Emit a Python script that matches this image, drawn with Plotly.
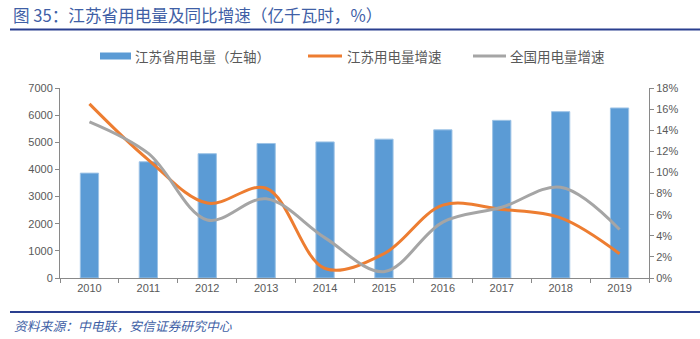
import plotly.graph_objects as go

years = ["2010", "2011", "2012", "2013", "2014", "2015", "2016", "2017", "2018", "2019"]
js_consumption = [3864, 4282, 4580, 4956, 5013, 5115, 5459, 5808, 6128, 6264]
js_growth = [16.5, 11.2, 7.1, 8.5, 0.9, 2.3, 6.9, 6.5, 5.7, 2.3]
cn_growth = [14.8, 11.8, 5.5, 7.5, 3.8, 0.6, 5.3, 6.7, 8.6, 4.6]

title_text = "图 35：江苏省用电量及同比增速（亿千瓦时，%）"
legend_names = ["江苏省用电量（左轴）", "江苏用电量增速", "全国用电量增速"]
source_text = "资料来源：中电联，安信证券研究中心"

W, H = 700, 339
L, R, T, B = 60, 51, 88, 61
pw, ph = W - L - R, H - T - B


def px(x):
    return (x - L) / pw


def py(y):
    return (H - B - y) / ph


BAR = "#5B9BD5"
ORANGE = "#ED7D31"
GRAY = "#A5A5A5"
TXT = "#595959"
BLUE_T = "#3F5FA6"
FONT = "Noto Sans CJK SC"
NUMFONT = "Liberation Sans"

fig = go.Figure()
fig.add_trace(go.Bar(x=years, y=js_consumption, name=legend_names[0], width=0.31,
                     marker=dict(color=BAR, line=dict(color="#9DC3E6", width=1)),
                     showlegend=False))
fig.add_trace(go.Scatter(x=years, y=js_growth, name=legend_names[1], yaxis="y2",
                         mode="lines", line=dict(color=ORANGE, width=3, shape="spline", smoothing=1),
                         showlegend=False))
fig.add_trace(go.Scatter(x=years, y=cn_growth, name=legend_names[2], yaxis="y2",
                         mode="lines", line=dict(color=GRAY, width=3, shape="spline", smoothing=1),
                         showlegend=False))

axis_common = dict(showline=True, linecolor="#898989", linewidth=1, ticks="outside",
                   tickcolor="#898989", ticklen=4, showgrid=False, zeroline=False,
                   tickfont=dict(family=NUMFONT, size=11, color=TXT))

fig.update_layout(
    width=W, height=H,
    margin=dict(l=L, r=R, t=T, b=B),
    paper_bgcolor="white", plot_bgcolor="white",
    showlegend=False,
    bargap=0.69,
    xaxis=dict(type="category", tickson="boundaries", range=[-0.5, 9.5], **axis_common),
    yaxis=dict(range=[0, 7000], dtick=1000, tickformat="d", **axis_common),
    yaxis2=dict(range=[0, 18], dtick=2, ticksuffix="%", overlaying="y", side="right",
                **axis_common),
)

shapes = [
    dict(type="line", xref="paper", yref="paper", x0=px(10), x1=px(700), y0=py(29.5), y1=py(29.5),
         line=dict(color="#2A3F8F", width=2)),
    dict(type="line", xref="paper", yref="paper", x0=px(10), x1=px(700), y0=py(312), y1=py(312),
         line=dict(color="#2A3F8F", width=2)),
    dict(type="rect", xref="paper", yref="paper", x0=px(100), x1=px(131), y0=py(59.5), y1=py(52.5),
         fillcolor=BAR, line=dict(width=0)),
    dict(type="line", xref="paper", yref="paper", x0=px(308), x1=px(342), y0=py(56), y1=py(56),
         line=dict(color=ORANGE, width=3)),
    dict(type="line", xref="paper", yref="paper", x0=px(473), x1=px(506), y0=py(56), y1=py(56),
         line=dict(color=GRAY, width=3)),
]
fig.update_layout(shapes=shapes)

annotations = [
    dict(text=title_text, xref="paper", yref="paper", x=px(11), y=py(15), xanchor="left",
         yanchor="middle", showarrow=False, font=dict(family=FONT, size=16.6, color=BLUE_T)),
    dict(text="<i>" + source_text + "</i>", xref="paper", yref="paper", x=px(12), y=py(325),
         xanchor="left", yanchor="middle", showarrow=False,
         font=dict(family=FONT, size=12.8, color=BLUE_T)),
]
for xpos, name in zip([133, 345, 508], legend_names):
    annotations.append(dict(text=name, xref="paper", yref="paper", x=px(xpos), y=py(56),
                            xanchor="left", yanchor="middle", showarrow=False,
                            font=dict(family=FONT, size=13.5, color=TXT)))
fig.update_layout(annotations=annotations)

fig.write_html("out.html")
